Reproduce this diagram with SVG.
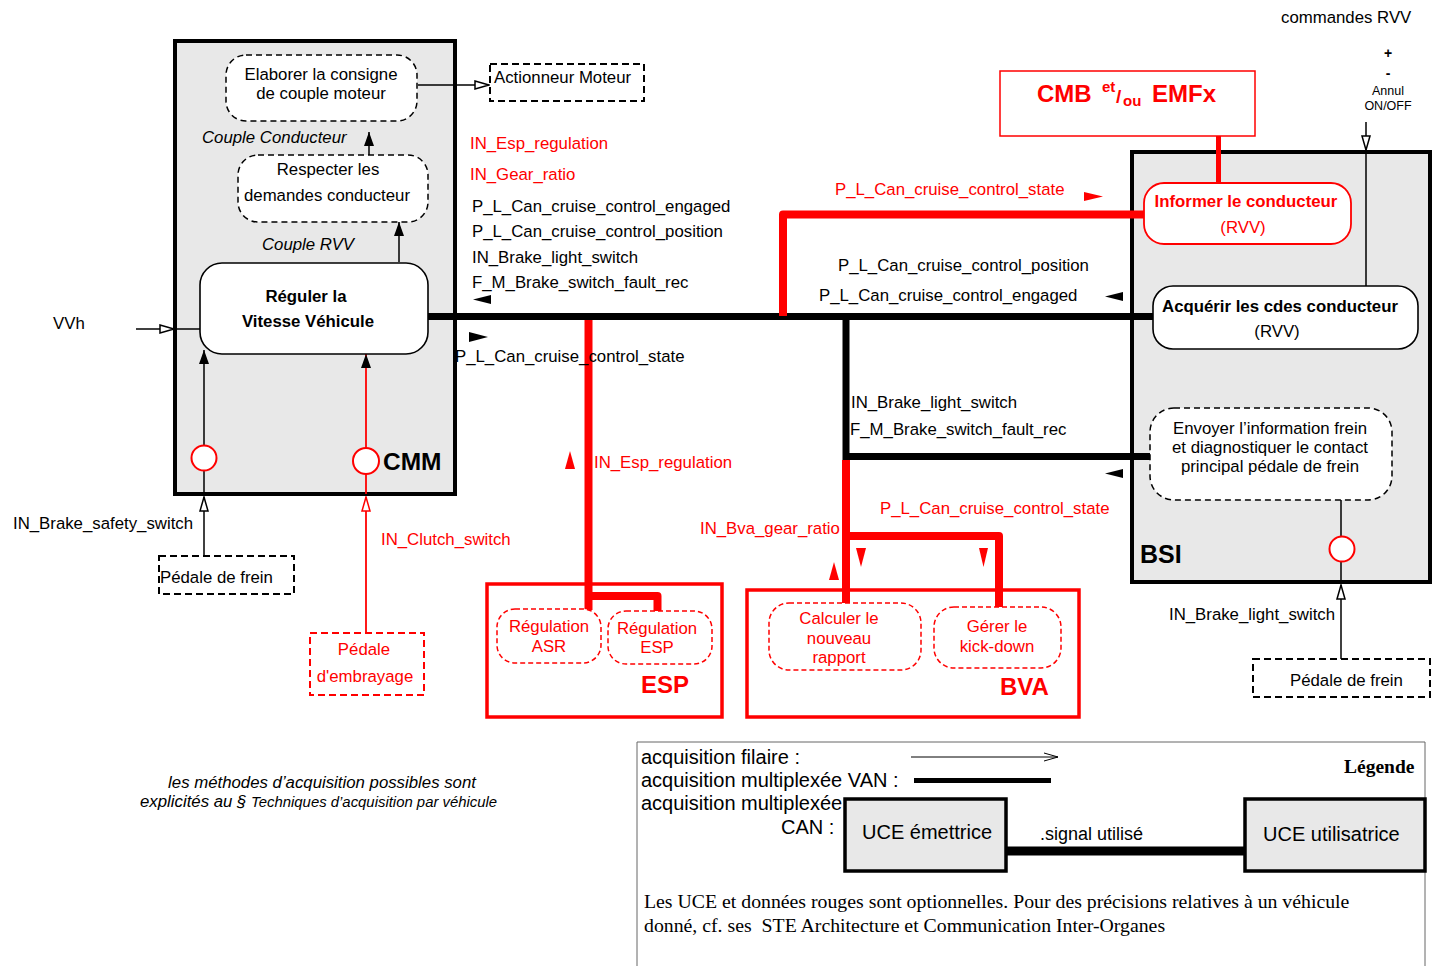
<svg xmlns="http://www.w3.org/2000/svg" width="1437" height="966" viewBox="0 0 1437 966">
  <style>
    text { font-family: "Liberation Sans", Arial, sans-serif; font-size: 16.8px; fill: #000; }
    .r { fill: #ff0000; }
    .b { font-weight: bold; }
    .i { font-style: italic; }
    .m { text-anchor: middle; }
    .ecu { fill: #e8e8e8; stroke: #000; stroke-width: 4; }
    .ecuR { fill: #fff; stroke: #ff0000; stroke-width: 3.5; }
    .fn { fill: #fff; stroke: #000; stroke-width: 1.6; }
    .fnD { fill: #fff; stroke: #000; stroke-width: 1.5; stroke-dasharray: 6 4; }
    .fnR { fill: #fff; stroke: #ff0000; stroke-width: 1.5; stroke-dasharray: 5 3; }
    .ext { fill: #fff; stroke: #000; stroke-width: 2; stroke-dasharray: 7 4; }
    .extR { fill: #fff; stroke: #ff0000; stroke-width: 2; stroke-dasharray: 7 4; }
    .w { fill: none; stroke: #000; stroke-width: 1.5; }
    .wR { fill: none; stroke: #ff0000; stroke-width: 1.8; }
    .van { fill: none; stroke: #000; stroke-width: 7; }
    .vanR { fill: none; stroke: #ff0000; stroke-width: 8; stroke-linejoin: round; }
    .dir { fill: #000; }
    .dirR { fill: #ff0000; }
    .tap { fill: #fff; stroke: #ff0000; stroke-width: 2; }
    .ser { font-family: "Liberation Serif", "Times New Roman", serif; }
  </style>
  <defs>
    <marker id="open" viewBox="0 0 16 10" refX="15" refY="5" markerWidth="16" markerHeight="10" markerUnits="userSpaceOnUse" orient="auto">
      <path d="M1,1 L15,5 L1,9 Z" fill="#fff" stroke="#000" stroke-width="1.5"/>
    </marker>
    <marker id="openR" viewBox="0 0 16 10" refX="15" refY="5" markerWidth="16" markerHeight="10" markerUnits="userSpaceOnUse" orient="auto">
      <path d="M1,1 L15,5 L1,9 Z" fill="#fff" stroke="#ff0000" stroke-width="1.5"/>
    </marker>
    <marker id="fill" viewBox="0 0 14 10" refX="14" refY="5" markerWidth="14" markerHeight="10" markerUnits="userSpaceOnUse" orient="auto">
      <path d="M0,0 L14,5 L0,10 Z" fill="#000"/>
    </marker>
    <marker id="vee" viewBox="0 0 16 10" refX="15" refY="5" markerWidth="16" markerHeight="10" markerUnits="userSpaceOnUse" orient="auto">
      <path d="M1,1 L15,5 L1,9" fill="none" stroke="#000" stroke-width="1"/>
    </marker>
  </defs>

  <!-- ECU containers -->
  <g id="cmm">
    <rect class="ecu" x="175" y="41" width="280" height="453"/>
    <text x="383" y="470" class="b" style="font-size:24.5px">CMM</text>
  </g>
  <g id="bsi">
    <rect class="ecu" x="1132" y="152" width="298" height="430"/>
    <text x="1140" y="563" class="b" style="font-size:25px">BSI</text>
  </g>
  <g id="esp">
    <rect class="ecuR" x="487" y="584" width="235" height="133"/>
    <text x="641" y="693" class="b r" style="font-size:24px">ESP</text>
  </g>
  <g id="bva">
    <rect class="ecuR" x="747" y="590" width="332" height="127"/>
    <text x="1000" y="695" class="b r" style="font-size:24px">BVA</text>
  </g>
  <g id="cmb">
    <rect x="1000" y="71" width="255" height="65" fill="#fff" stroke="#ff0000" stroke-width="1.5"/>
    <text class="b r" style="font-size:24px"><tspan x="1037" y="102">CMB</tspan><tspan x="1102" y="92" style="font-size:15px">et</tspan><tspan x="1116" y="103" style="font-size:19px">/</tspan><tspan x="1123" y="106" style="font-size:15px">ou</tspan><tspan x="1152" y="102">EMFx</tspan></text>
  </g>

  <!-- multiplexed links and wired inputs -->
  <g id="connectors">
    <path class="van" d="M428,316.5 H1153"/>
    <path class="van" d="M846,316.5 V456.5 H1150"/>
    <path class="vanR" d="M588.5,320 V610 M588.5,596 H657.5 V611"/>
    <path class="vanR" d="M846,460 V603 M846,536 H999 V607"/>
    <path class="vanR" d="M783,316 V214.5 H1144"/>
    <path d="M1218.5,136 V183" stroke="#ff0000" stroke-width="5"/>

    <line class="w" x1="136" y1="329" x2="174" y2="329" marker-end="url(#open)"/>
    <line class="w" x1="177" y1="329" x2="200" y2="329"/>
    <line class="w" x1="418" y1="85" x2="489" y2="85" marker-end="url(#open)"/>
    <line class="w" x1="369" y1="155" x2="369" y2="132" marker-end="url(#fill)"/>
    <line class="w" x1="399" y1="262" x2="399" y2="222" marker-end="url(#fill)"/>
    <line class="w" x1="204" y1="445" x2="204" y2="350" marker-end="url(#fill)"/>
    <line class="w" x1="204" y1="471" x2="204" y2="494"/>
    <line class="w" x1="204" y1="556" x2="204" y2="497" marker-end="url(#open)"/>
    <line class="wR" x1="366" y1="448" x2="366" y2="354" marker-end="url(#fill)"/>
    <line class="wR" x1="366" y1="474" x2="366" y2="494"/>
    <line class="wR" x1="366" y1="633" x2="366" y2="497" marker-end="url(#openR)"/>
    <line class="w" x1="1366" y1="122" x2="1366" y2="150" marker-end="url(#open)"/>
    <line class="w" x1="1366" y1="152" x2="1366" y2="286"/>
    <line class="w" x1="1341" y1="500" x2="1341" y2="536"/>
    <line class="w" x1="1341" y1="562" x2="1341" y2="582"/>
    <line class="w" x1="1341" y1="659" x2="1341" y2="585" marker-end="url(#open)"/>

    <!-- data flow direction marks -->
    <polygon class="dir" points="473,299.5 491,295 491,304"/>
    <polygon class="dir" points="469,332 488,337 469,342"/>
    <polygon class="dir" points="1105,296.5 1123,292 1123,301"/>
    <polygon class="dir" points="1105,473.5 1123,469 1123,478"/>
    <polygon class="dirR" points="1084,192 1103,196.5 1084,201"/>
    <polygon class="dirR" points="570,451 575,469 565,469"/>
    <polygon class="dirR" points="856,548 866,548 861,567"/>
    <polygon class="dirR" points="979,548 988,548 983.5,567"/>
    <polygon class="dirR" points="834,562 839,580 829,580"/>

    <!-- acquisition taps -->
    <circle class="tap" cx="204" cy="458" r="12.5"/>
    <circle class="tap" cx="366" cy="461" r="13"/>
    <circle class="tap" cx="1342" cy="549" r="12.5"/>

    <!-- signal labels -->
    <text x="470" y="149" class="r">IN_Esp_regulation</text>
    <text x="470" y="180" class="r">IN_Gear_ratio</text>
    <text x="472" y="212">P_L_Can_cruise_control_engaged</text>
    <text x="472" y="237">P_L_Can_cruise_control_position</text>
    <text x="472" y="263">IN_Brake_light_switch</text>
    <text x="472" y="288">F_M_Brake_switch_fault_rec</text>
    <text x="455" y="362">P_L_Can_cruise_control_state</text>
    <text x="594" y="468" class="r">IN_Esp_regulation</text>
    <text x="700" y="534" class="r">IN_Bva_gear_ratio</text>
    <text x="880" y="514" class="r">P_L_Can_cruise_control_state</text>
    <text x="835" y="195" class="r">P_L_Can_cruise_control_state</text>
    <text x="838" y="271">P_L_Can_cruise_control_position</text>
    <text x="819" y="301">P_L_Can_cruise_control_engaged</text>
    <text x="851" y="408">IN_Brake_light_switch</text>
    <text x="850" y="435">F_M_Brake_switch_fault_rec</text>
    <text x="53" y="329">VVh</text>
    <text x="13" y="529">IN_Brake_safety_switch</text>
    <text x="381" y="545" class="r">IN_Clutch_switch</text>
    <text x="1169" y="620">IN_Brake_light_switch</text>
    <text x="202" y="143" class="i">Couple Conducteur</text>
    <text x="262" y="250" class="i">Couple RVV</text>
    <text x="1281" y="23">commandes RVV</text>
    <text x="1388" y="58" class="m b" style="font-size:14px">+</text>
    <text x="1388" y="78" class="m b" style="font-size:14px">-</text>
    <text x="1388" y="95" class="m" style="font-size:12.5px">Annul</text>
    <text x="1388" y="110" class="m" style="font-size:12.5px">ON/OFF</text>
  </g>

  <!-- CMM functions -->
  <g id="elaborer">
    <rect class="fnD" x="226" y="55" width="191" height="66" rx="20"/>
    <text x="321" y="80" class="m">Elaborer la consigne</text>
    <text x="321" y="99" class="m">de couple moteur</text>
  </g>
  <g id="respecter">
    <rect class="fnD" x="238" y="155" width="190" height="67" rx="20"/>
    <text x="328" y="175" class="m">Respecter les</text>
    <text x="327" y="201" class="m">demandes conducteur</text>
  </g>
  <g id="reguler">
    <rect class="fn" x="200" y="263" width="228" height="91" rx="22"/>
    <text x="306" y="302" class="m b">Réguler la</text>
    <text x="308" y="327" class="m b">Vitesse Véhicule</text>
  </g>
  <g id="actionneur">
    <rect class="ext" x="490" y="64" width="154" height="37"/>
    <text x="494" y="83">Actionneur Moteur</text>
  </g>
  <g id="pedale-frein-cmm">
    <rect class="ext" x="159" y="556" width="135" height="38"/>
    <text x="160" y="583">Pédale de frein</text>
  </g>
  <g id="pedale-embrayage">
    <rect class="extR" x="310" y="633" width="114" height="62"/>
    <text x="364" y="655" class="m r">Pédale</text>
    <text x="365" y="682" class="m r">d'embrayage</text>
  </g>

  <!-- ESP functions -->
  <g id="reg-asr">
    <rect class="fnR" x="497" y="609" width="104" height="54" rx="18"/>
    <text x="549" y="632" class="m r">Régulation</text>
    <text x="549" y="652" class="m r">ASR</text>
  </g>
  <g id="reg-esp">
    <rect class="fnR" x="608" y="611" width="104" height="53" rx="18"/>
    <text x="657" y="634" class="m r">Régulation</text>
    <text x="657" y="653" class="m r">ESP</text>
  </g>

  <!-- BVA functions -->
  <g id="calculer">
    <rect class="fnR" x="769" y="603" width="152" height="67" rx="20"/>
    <text x="839" y="624" class="m r">Calculer le</text>
    <text x="839" y="644" class="m r">nouveau</text>
    <text x="839" y="663" class="m r">rapport</text>
  </g>
  <g id="gerer">
    <rect class="fnR" x="934" y="607" width="127" height="61" rx="20"/>
    <text x="997" y="632" class="m r">Gérer le</text>
    <text x="997" y="652" class="m r">kick-down</text>
  </g>

  <!-- BSI functions -->
  <g id="informer">
    <rect x="1144" y="183" width="207" height="61" rx="20" fill="#fff" stroke="#ff0000" stroke-width="1.8"/>
    <text x="1246" y="207" class="m b r">Informer le conducteur</text>
    <text x="1243" y="233" class="m r">(RVV)</text>
  </g>
  <g id="acquerir">
    <rect class="fn" x="1153" y="286" width="265" height="63" rx="20"/>
    <text x="1280" y="312" class="m b">Acquérir les cdes conducteur</text>
    <text x="1277" y="337" class="m">(RVV)</text>
  </g>
  <g id="envoyer">
    <rect class="fnD" x="1150" y="408" width="242" height="92" rx="24"/>
    <text x="1270" y="434" class="m">Envoyer l’information frein</text>
    <text x="1270" y="453" class="m">et diagnostiquer le contact</text>
    <text x="1270" y="472" class="m">principal pédale de frein</text>
  </g>
  <g id="pedale-frein-bsi">
    <rect class="ext" x="1253" y="659" width="177" height="38"/>
    <text x="1290" y="686">Pédale de frein</text>
  </g>

  <!-- note -->
  <g id="note">
    <text x="322" y="788" class="m i" style="font-size:16.8px">les méthodes d’acquisition possibles sont</text>
    <text x="140" y="807" class="i" style="font-size:16.8px">explicités au § <tspan style="font-size:14.9px">Techniques d’acquisition par véhicule</tspan></text>
  </g>

  <!-- legend -->
  <g id="legend">
    <path d="M637,966 V742 H1425 V966" fill="none" stroke="#666" stroke-width="1"/>
    <text x="641" y="764" style="font-size:20px">acquisition filaire :</text>
    <line x1="911" y1="757" x2="1058" y2="757" stroke="#000" stroke-width="1" marker-end="url(#vee)"/>
    <text x="641" y="787" style="font-size:20px">acquisition multiplexée VAN :</text>
    <line x1="914" y1="780.5" x2="1051" y2="780.5" stroke="#000" stroke-width="5"/>
    <text x="641" y="810" style="font-size:20px">acquisition multiplexée</text>
    <text x="781" y="834" style="font-size:20px">CAN :</text>
    <text x="1344" y="773" class="ser b" style="font-size:19.5px">Légende</text>
    <line x1="1006" y1="851" x2="1245" y2="851" stroke="#000" stroke-width="9"/>
    <rect x="845" y="799" width="161" height="72" fill="#e8e8e8" stroke="#000" stroke-width="3.5"/>
    <text x="862" y="839" style="font-size:20px">UCE émettrice</text>
    <text x="1040" y="840" style="font-size:18px">.signal utilisé</text>
    <rect x="1245" y="799" width="180" height="72" fill="#e8e8e8" stroke="#000" stroke-width="3.5"/>
    <text x="1263" y="841" style="font-size:20px">UCE utilisatrice</text>
    <text x="644" y="908" class="ser" style="font-size:19.8px">Les UCE et données rouges sont optionnelles. Pour des précisions relatives à un véhicule</text>
    <text x="644" y="932" class="ser" style="font-size:19.8px">donné, cf. ses&#160; STE Architecture et Communication Inter-Organes</text>
  </g>
</svg>
